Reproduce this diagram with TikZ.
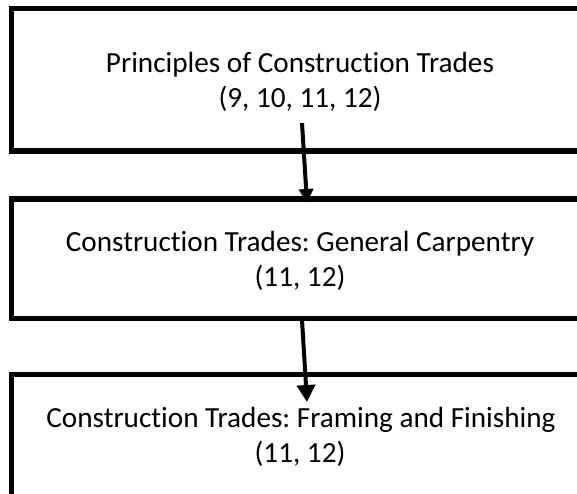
\documentclass[tikz,border=0pt]{standalone}
\usepackage{fontspec}
\setmainfont{Carlito}[RawFeature={-liga;-clig;-dlig;-calt;-rlig}]
\frenchspacing
\usetikzlibrary{arrows.meta}
\begin{document}
\begin{tikzpicture}[x=1pt,y=-1pt,
  box/.style={draw=black,line width=5.5pt,rectangle,minimum width=577pt,inner sep=0pt},
  label/.style={anchor=base,inner sep=0pt,font=\fontsize{29.2}{35}\selectfont},
  conn/.style={line width=4pt,draw=black}]
\useasboundingbox (0,0) rectangle (577,493);
\clip (0,0) rectangle (577,493);
\fill[white] (0,0) rectangle (577,493);
% boxes
\node[box,minimum height=142.5pt] (b1) at (300,79.75) {};
\node[box,minimum height=119.7pt] (b2) at (300,258.85) {};
\node[box,minimum height=124pt] (b3) at (300,436.5) {};
% texts
\node[label] (t1a) at (300,72) {Principles of Construction Trades};
\node[label] (t1b) at (300,107) {(9, 10, 11, 12)};
\node[label] (t2a) at (300,251) {Construction Trades: General Carpentry};
\node[label] (t2b) at (300,286) {(11, 12)};
\node[label] (t3a) at (301,427) {Construction Trades: Framing and Finishing};
\node[label] (t3b) at (300,462) {(11, 12)};
% connectors
\coordinate (a1s) at (302,123);
\coordinate (a1e) at (307,203);
\coordinate (a2s) at (302,320);
\coordinate (a2e) at (307,402);
\draw[conn,-{Triangle[length=14pt,width=14pt]}] (a1s) -- (a1e);
\draw[conn,-{Triangle[length=17pt,width=18pt]}] (a2s) -- (a2e);
\end{tikzpicture}
\end{document}
